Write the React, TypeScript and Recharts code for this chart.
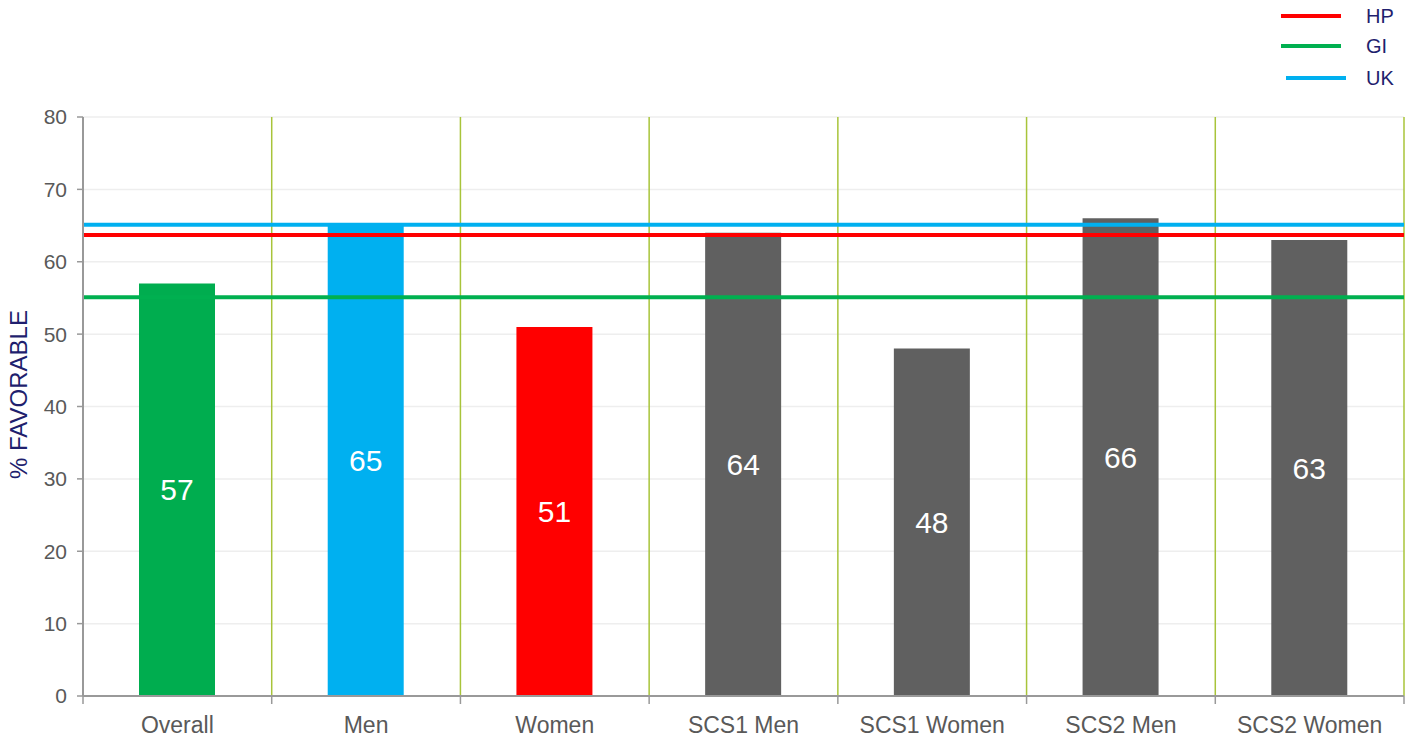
import React from 'react';
import {
  ComposedChart,
  Bar,
  Cell,
  XAxis,
  YAxis,
  CartesianGrid,
  ReferenceLine,
  LabelList,
} from 'recharts';

const categories = ['Overall', 'Men', 'Women', 'SCS1 Men', 'SCS1 Women', 'SCS2 Men', 'SCS2 Women'];
const favorable = [57, 65, 51, 64, 48, 66, 63];
const barColors = ['#00AD4F', '#00B0F0', '#FF0000', '#606060', '#606060', '#606060', '#606060'];
const yTicks = [0, 10, 20, 30, 40, 50, 60, 70, 80];

const benchmarkNames = ['HP', 'GI', 'UK'];
const benchmarkValues = [63.7, 55.1, 65.1];
const benchmarkColors = ['#FF0000', '#00B050', '#00B0F0'];

const data = categories.map((name, i) => ({ name, value: favorable[i] }));

const W = 1411;
const H = 738;
const FONT = 'Liberation Sans, Arial, sans-serif';

function XTick(props: any) {
  const { x, y, payload, index } = props;
  const half = payload && payload.offset ? payload.offset : 94.4;
  const left = x - half;
  return (
    <g>
      <line x1={left} y1={y - 8} x2={left} y2={y} stroke="#999" strokeWidth={1.5} />
      {index === categories.length - 1 && (
        <line x1={x + half} y1={y - 8} x2={x + half} y2={y} stroke="#999" strokeWidth={1.5} />
      )}
      <text x={x} y={y + 29} textAnchor="middle" fill="#595959" fontSize={23} fontFamily={FONT}>
        {payload.value}
      </text>
    </g>
  );
}

export default function App() {
  return (
    <div style={{ position: 'absolute', left: 0, top: 0, width: W, height: H, background: '#fff', fontFamily: FONT }}>
      <ComposedChart
        width={W}
        height={H}
        data={data}
        margin={{ top: 117, right: 7, bottom: 12, left: 0 }}
      >
        <CartesianGrid vertical={false} stroke="#EEEEEE" strokeWidth={1.5} />
        <CartesianGrid
          horizontal={false}
          stroke="#A8C43A"
          strokeWidth={1.5}
          verticalCoordinatesGenerator={({ offset }: any) =>
            categories.map((_, i) => offset.left + ((i + 1) * offset.width) / categories.length)
          }
        />
        <XAxis
          dataKey="name"
          axisLine={{ stroke: '#999', strokeWidth: 2 }}
          tickLine={false}
          tick={<XTick />}
          interval={0}
        />
        <YAxis
          width={83}
          domain={[0, 80]}
          ticks={yTicks}
          axisLine={{ stroke: '#999', strokeWidth: 2 }}
          tickLine={{ stroke: '#999', strokeWidth: 1.5 }}
          tickSize={6}
          tickMargin={10}
          tick={{ fill: '#595959', fontSize: 21, fontFamily: FONT }}
          label={{
            value: '% FAVORABLE',
            angle: -90,
            position: 'insideLeft',
            offset: 18,
            dy: -12,
            style: { textAnchor: 'middle', fill: '#1F1F6E', fontSize: 24, fontFamily: FONT },
          }}
        />
        <Bar dataKey="value" barSize={76} isAnimationActive={false}>
          {data.map((d, i) => (
            <Cell key={d.name} fill={barColors[i]} />
          ))}
          <LabelList dataKey="value" position="center" fill="#FFFFFF" fontSize={30} fontFamily={FONT} />
        </Bar>
        {benchmarkNames.map((n, i) => (
          <ReferenceLine key={n} y={benchmarkValues[i]} stroke={benchmarkColors[i]} strokeWidth={4} />
        ))}
      </ComposedChart>
      <svg width={160} height={100} style={{ position: 'absolute', left: 1251, top: 0 }}>
        {benchmarkNames.map((n, i) => {
          const cy = [16, 46, 78][i];
          const dx = i === 2 ? 5 : 0;
          return (
            <g key={n}>
              <line x1={30 + dx} y1={cy} x2={90 + dx} y2={cy} stroke={benchmarkColors[i]} strokeWidth={4} />
              <text x={115} y={cy + 7} fill="#1F1F6E" fontSize={20} fontFamily={FONT}>
                {n}
              </text>
            </g>
          );
        })}
      </svg>
    </div>
  );
}
